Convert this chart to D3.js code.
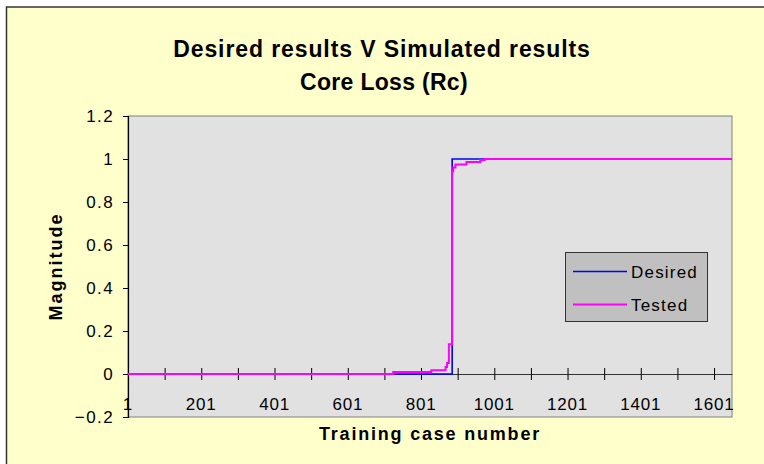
<!DOCTYPE html>
<html>
<head>
<meta charset="utf-8">
<script src="https://cdn.jsdelivr.net/npm/d3@7/dist/d3.min.js"></script>
<style>
  html, body { margin: 0; padding: 0; background: #ffffff; }
  svg { display: block; font-family: "Liberation Sans", Arial, sans-serif; }
</style>
</head>
<body>
<svg id="chart" width="764" height="464"></svg>
<script>
// ---- data ----
const titleLines = ["Desired results V Simulated results", "Core Loss (Rc)"];
const xTitle = "Training case number";
const yTitle = "Magnitude";
const caseCount = 1650;
const xTickCases = [1, 101, 201, 301, 401, 501, 601, 701, 801, 901, 1001, 1101, 1201, 1301, 1401, 1501, 1601];
const xLabelCases = [1, 201, 401, 601, 801, 1001, 1201, 1401, 1601];
const yTicks = [-0.2, 0, 0.2, 0.4, 0.6, 0.8, 1, 1.2];
const seriesNames = ["Desired", "Tested"];
// step-change points (case number, value held until next case)
const desiredCases = [1, 886, 1650];
const desiredValues = [0, 1, 1];
const testedCases = [1, 725, 829, 868, 872, 877, 882, 886, 889, 895, 925, 963, 975, 1650];
const testedValues = [0, 0.009, 0.017, 0.033, 0.051, 0.138, 0.138, 0.943, 0.96, 0.975, 0.986, 0.995, 1, 1];

// ---- layout ----
const svg = d3.select("#chart");
const W = 764, H = 464;
const plot = { left: 128, top: 116, right: 732, bottom: 417 };

svg.append("rect").attr("x", 0).attr("y", 0).attr("width", W).attr("height", H).attr("fill", "#ffffff");
svg.append("rect").attr("x", 6.5).attr("y", 7).attr("width", W + 10).attr("height", H + 10)
  .attr("fill", "#ffffcc").attr("stroke", "#333333").attr("stroke-width", 1.5);

const x = d3.scaleLinear().domain([1, caseCount]).range([plot.left, plot.right]);
const y = d3.scaleLinear().domain([-0.2, 1.2]).range([plot.bottom, plot.top]);

// plot area
svg.append("rect").attr("x", plot.left).attr("y", plot.top)
  .attr("width", plot.right - plot.left).attr("height", plot.bottom - plot.top)
  .attr("fill", "#e1e1e1").attr("stroke", "#808080").attr("stroke-width", 1);

// titles
svg.append("text").attr("x", 382).attr("y", 57).attr("text-anchor", "middle")
  .attr("font-size", 23).attr("font-weight", "bold").attr("letter-spacing", 0.9)
  .attr("fill", "#000").text(titleLines[0]);
svg.append("text").attr("x", 384).attr("y", 90).attr("text-anchor", "middle")
  .attr("font-size", 23).attr("font-weight", "bold").attr("letter-spacing", 0.3)
  .attr("fill", "#000").text(titleLines[1]);

// y axis
const yAxis = d3.axisLeft(y).tickValues(yTicks).tickSize(5).tickPadding(9)
  .tickFormat(d => d3.format("")(+d.toFixed(1)));
const gy = svg.append("g").attr("transform", `translate(${plot.left},0)`).call(yAxis);
gy.select(".domain").attr("stroke", "#000").attr("stroke-width", 1.2);
gy.selectAll(".tick line").attr("stroke", "#000");
gy.selectAll(".tick text").attr("font-size", 17).attr("letter-spacing", 1.4)
  .attr("font-family", "Liberation Sans, Arial, sans-serif").attr("fill", "#000");

svg.append("text").attr("transform", `translate(62,${(plot.top + plot.bottom) / 2}) rotate(-90)`)
  .attr("text-anchor", "middle").attr("font-size", 18).attr("font-weight", "bold")
  .attr("letter-spacing", 2).text(yTitle);

// x axis at y = 0
const xAxis = d3.axisBottom(x).tickValues(xTickCases).tickSize(0).tickFormat("");
const gx = svg.append("g").attr("transform", `translate(0,${y(0)})`).call(xAxis);
gx.select(".domain").attr("stroke", "#333").attr("stroke-width", 1.2);
gx.selectAll(".tick line").attr("y1", -6).attr("y2", 6).attr("stroke", "#000").attr("stroke-width", 1);

// x labels along the bottom
svg.append("g").selectAll("text").data(xLabelCases).join("text")
  .attr("x", d => x(d)).attr("y", 410).attr("text-anchor", "middle")
  .attr("font-size", 17).attr("letter-spacing", 0.8).attr("fill", "#000").text(d => d);

svg.append("text").attr("x", 430).attr("y", 440).attr("text-anchor", "middle")
  .attr("font-size", 18).attr("font-weight", "bold").attr("letter-spacing", 1.8).text(xTitle);

// series
const line = d3.line().x(d => x(d[0])).y(d => y(d[1])).curve(d3.curveStepAfter);
const desired = desiredCases.map((c, i) => [c, desiredValues[i]]);
const tested = testedCases.map((c, i) => [c, testedValues[i]]);

svg.append("path").datum(desired).attr("d", line).attr("fill", "none")
  .attr("stroke", "#0000ff").attr("stroke-width", 1.6);
svg.append("path").datum(tested).attr("d", line).attr("fill", "none")
  .attr("stroke", "#ff00ff").attr("stroke-width", 2);

// legend
const lg = svg.append("g");
lg.append("rect").attr("x", 565.5).attr("y", 252.5).attr("width", 142).attr("height", 69)
  .attr("fill", "#c0c0c0").attr("stroke", "#333").attr("stroke-width", 1);
const colors = ["#0000ff", "#ff00ff"];
seriesNames.forEach((name, i) => {
  const ly = 271.5 + i * 33;
  lg.append("line").attr("x1", 573).attr("x2", 627).attr("y1", ly).attr("y2", ly)
    .attr("stroke", colors[i]).attr("stroke-width", i === 0 ? 1.6 : 2);
  lg.append("text").attr("x", 631).attr("y", ly + 6).attr("font-size", 17)
    .attr("letter-spacing", 1.2).attr("fill", "#000").text(name);
});
</script>
</body>
</html>
